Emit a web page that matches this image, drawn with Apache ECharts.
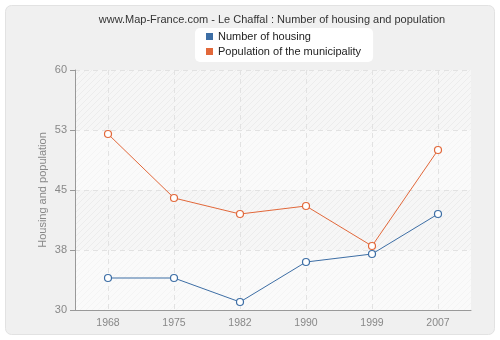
<!DOCTYPE html>
<html><head><meta charset="utf-8">
<script src="https://cdn.jsdelivr.net/npm/echarts@6/dist/echarts.min.js"></script>
<style>html,body{margin:0;padding:0;background:#fff}#c{width:500px;height:340px}</style>
</head><body><div id="c"></div>
<script>
const years = ['1968','1975','1982','1990','1999','2007'];
const housing = [34, 34, 31, 36, 37, 42];
const population = [52, 44, 42, 43, 38, 50];
const yTicks = [30, 37.5, 45, 52.5, 60];

const FONT = 'Liberation Sans';
const BLUE = '#3d6ea5', ORANGE = '#e2683a';

function hatch(bg, line) {
  const c = document.createElement('canvas');
  c.width = 6; c.height = 6;
  const g = c.getContext('2d');
  g.fillStyle = bg; g.fillRect(0, 0, 6, 6);
  g.strokeStyle = line; g.lineWidth = 1;
  g.beginPath();
  g.moveTo(0, 6); g.lineTo(6, 0);
  g.moveTo(-3, 3); g.lineTo(3, -3);
  g.moveTo(3, 9); g.lineTo(9, 3);
  g.stroke();
  return {image: c, repeat: 'repeat'};
}

const chart = echarts.init(document.getElementById('c'), null, {renderer: 'canvas'});
chart.setOption({
  backgroundColor: '#fff',
  graphic: [{
    type: 'rect', z: -10, silent: true,
    shape: {x: 5.5, y: 5.5, width: 489, height: 329, r: 6},
    style: {fill: '#f0f0f0', stroke: '#e2e2e2', lineWidth: 1}
  }],
  title: {
    text: 'www.Map-France.com - Le Chaffal : Number of housing and population',
    left: 267, top: 9, textAlign: 'center',
    textStyle: {fontFamily: FONT, fontSize: 11, fontWeight: 'normal', color: '#333'}
  },
  legend: {
    top: 28, left: 195, orient: 'vertical',
    backgroundColor: '#fff', borderRadius: 5, padding: [3, 12, 5, 11],
    itemWidth: 7, itemHeight: 7, itemGap: 4,
    textStyle: {fontFamily: FONT, fontSize: 11, color: '#222'},
    data: [
      {name: 'Number of housing', icon: 'rect', itemStyle: {color: BLUE, borderWidth: 0}},
      {name: 'Population of the municipality', icon: 'rect', itemStyle: {color: ORANGE, borderWidth: 0}}
    ]
  },
  grid: {left: 75, right: 29, top: 70, bottom: 30},
  xAxis: {
    type: 'category', data: years, boundaryGap: true,
    axisLine: {lineStyle: {color: '#999'}},
    axisTick: {alignWithLabel: true, length: 5, lineStyle: {color: '#999'}},
    axisLabel: {color: '#888', fontFamily: FONT, fontSize: 10.5, margin: 8},
    splitLine: {show: true, alignWithLabel: true, lineStyle: {color: '#e2e2e2', type: [5, 4]}}
  },
  yAxis: {
    type: 'value', min: 30, max: 60, interval: 7.5,
    name: 'Housing and population', nameLocation: 'middle', nameGap: 27,
    nameMoveOverlap: false,
    nameTextStyle: {color: '#888', fontFamily: FONT, fontSize: 11},
    axisLine: {show: true, lineStyle: {color: '#999'}},
    axisTick: {show: true, length: 5, lineStyle: {color: '#999'}},
    axisLabel: {color: '#888', fontFamily: FONT, fontSize: 11, margin: 8,
      formatter: v => String(Math.round(v))},
    splitLine: {show: true, lineStyle: {color: '#e2e2e2', type: [5, 4]}},
    splitArea: {show: true, areaStyle: {color: [hatch('#fafafa', '#f4f4f4'), hatch('#f6f6f6', '#ececec')]}}
  },
  series: [
    {
      name: 'Number of housing', type: 'line', data: housing,
      color: BLUE, symbol: 'circle', symbolSize: 7,
      itemStyle: {color: '#fff', borderColor: BLUE, borderWidth: 1.2},
      lineStyle: {color: BLUE, width: 1}
    },
    {
      name: 'Population of the municipality', type: 'line', data: population,
      color: ORANGE, symbol: 'circle', symbolSize: 7,
      itemStyle: {color: '#fff', borderColor: ORANGE, borderWidth: 1.2},
      lineStyle: {color: ORANGE, width: 1}
    }
  ],
  animation: false
});
</script></body></html>
